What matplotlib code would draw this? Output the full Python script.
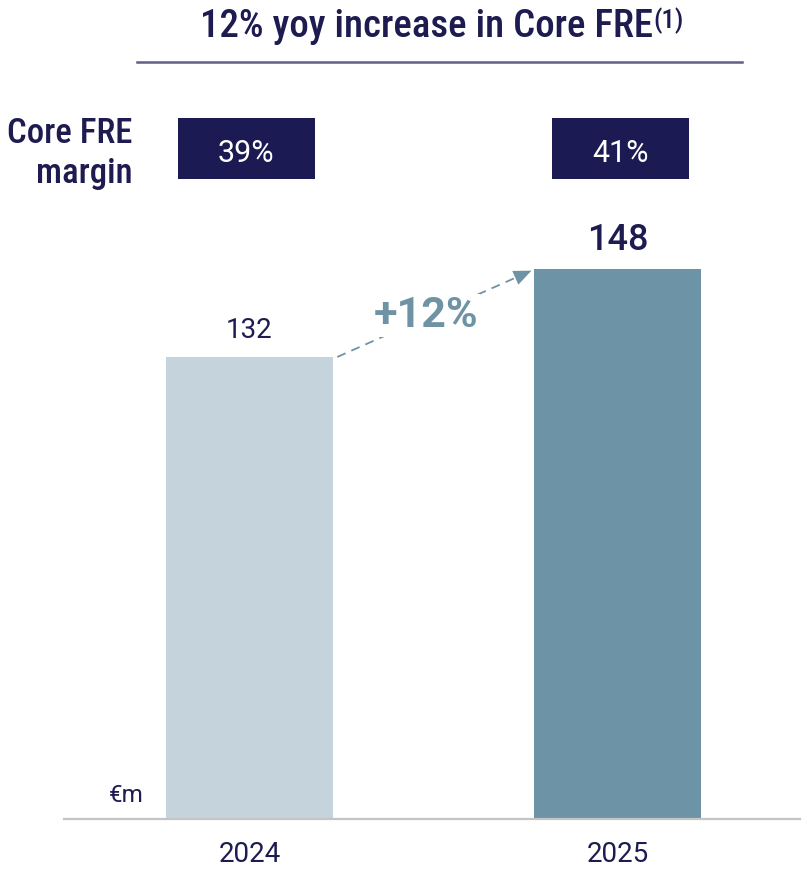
"""Core FRE bar chart: 2024 vs 2025 with margin boxes and yoy arrow."""

import matplotlib
matplotlib.use("Agg")
import matplotlib.pyplot as plt  # noqa: E402

# ---- data -------------------------------------------------------------
years = ["2024", "2025"]
core_fre = [132, 148]
margins = ["39%", "41%"]
growth_label = "+12%"
title = "12% yoy increase in Core FRE"
title_note = "(1)"
unit = "€m"

# ---- style ------------------------------------------------------------
NAVY = "#1d1b50"
BOX = "#1c1a52"
BAR_COLORS = ["#c5d4dc", "#6d93a6"]
ARROW = "#6e93a5"
COND = "Roboto Condensed"
BODY = "Roboto"

W, H, DPI = 807, 873, 100


def fx(x):
    return x / W


def fy(y):
    return 1 - y / H


fig = plt.figure(figsize=(W / DPI, H / DPI), dpi=DPI)
fig.patch.set_facecolor("white")

# axes spans pixels x 64..800, y 0..819 (baseline)
ax = fig.add_axes([fx(64), fy(819), fx(800) - fx(64), fy(0) - fy(819)])
ax.set_xlim(-0.503, 1.494)
ax.set_ylim(48, 196.9)
for side in ["top", "right", "left"]:
    ax.spines[side].set_visible(False)
ax.spines["bottom"].set_color("#c4c4c4")
ax.spines["bottom"].set_linewidth(1.6)
ax.set_yticks([])
ax.set_xticks(range(len(years)))
ax.set_xticklabels(years, fontsize=20, color=NAVY, family=BODY)
ax.tick_params(axis="x", length=0, pad=16)

width = 0.453
xs = list(range(len(years)))
ax.bar(xs, core_fre, width=width, color=BAR_COLORS, zorder=2)

# value labels
ax.annotate(str(core_fre[0]), (xs[0], core_fre[0]), xytext=(0, 14),
            textcoords="offset points", ha="center", va="baseline",
            fontsize=20, color=NAVY, family=BODY)
ax.annotate(str(core_fre[1]), (xs[1], core_fre[1]), xytext=(0, 14),
            textcoords="offset points", ha="center", va="baseline",
            fontsize=26, color=NAVY, family=BODY, fontweight="medium")

# dashed growth arrow from top of bar 1 to top of bar 2
x0, y0 = xs[0] + width / 2 + 0.012, core_fre[0]
x1, y1 = xs[1] - width / 2 - 0.008, core_fre[1] - 0.3
f = 0.915
xb, yb = x0 + (x1 - x0) * f, y0 + (y1 - y0) * f
ax.plot([x0, xb], [y0, yb], color=ARROW, lw=1.3, ls=(0, (5, 3.5)), zorder=1)
ax.annotate("", xy=(x1, y1), xytext=(xb, yb),
            arrowprops=dict(arrowstyle="-|>,head_length=0.85,head_width=0.36",
                            color=ARROW, lw=0, mutation_scale=15,
                            shrinkA=0, shrinkB=0))
fig.text(fx(426), fy(327), growth_label, ha="center", va="baseline",
         fontsize=31, fontweight="semibold", color=ARROW, family=BODY,
         bbox=dict(facecolor="white", edgecolor="none", pad=1), zorder=5)

# unit label
fig.text(fx(109), fy(802), unit, ha="left", va="baseline", fontsize=17.5,
         color=NAVY, family=BODY)

# title + underline
t = fig.text(fx(426), fy(37), title, ha="center", va="baseline",
             fontsize=28, fontweight="medium", color=NAVY, family=COND)
fig.canvas.draw()
bb = t.get_window_extent()
fig.text(bb.x1 / W + fx(1), fy(28), title_note, ha="left", va="baseline",
         fontsize=19, fontweight="medium", color=NAVY, family=COND)
fig.add_artist(plt.Line2D([fx(137), fx(742)], [fy(62), fy(62)],
                          color="#5f5f8a", lw=1.8))

# margin row
fig.text(fx(132), fy(143), "Core FRE", ha="right", va="baseline",
         fontsize=25, fontweight="medium", color=NAVY, family=COND)
fig.text(fx(132), fy(183), "margin", ha="right", va="baseline",
         fontsize=25, fontweight="medium", color=NAVY, family=COND)

box_w, box_top, box_bot = 137, 118, 179
for i, m in enumerate(margins):
    cx = ax.transData.transform((xs[i], 0))[0] + (-3 if i == 0 else 3)
    rect = plt.Rectangle((fx(cx - box_w / 2), fy(box_bot)), box_w / W,
                         (box_bot - box_top) / H, transform=fig.transFigure,
                         facecolor=BOX, edgecolor="none")
    fig.add_artist(rect)
    fig.text(fx(cx), fy(162), m, ha="center", va="baseline", fontsize=22,
             color="white", family=BODY)

fig.savefig("out.png", dpi=DPI, facecolor="white")
plt.close(fig)
